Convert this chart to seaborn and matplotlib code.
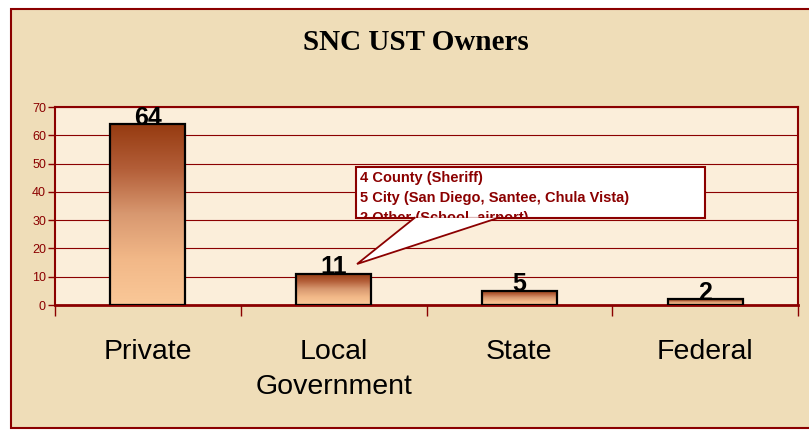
import numpy as np
import pandas as pd
import matplotlib.pyplot as plt
import seaborn as sns
from matplotlib.colors import LinearSegmentedColormap
from matplotlib.patches import Rectangle, Polygon
from matplotlib.transforms import Bbox, TransformedBbox

# chart data
categories = ['Private', 'Local\nGovernment', 'State', 'Federal']
owners = [64, 11, 5, 2]
y_ticks = [0, 10, 20, 30, 40, 50, 60, 70]
note_lines = ['4 County (Sheriff)',
              '5 City (San Diego, Santee, Chula Vista)',
              '2 Other (School, airport)']

df = pd.DataFrame({'owner': categories, 'count': owners})

DARK_RED = '#8B0000'
W, H = 809, 433

sns.set_style('white')
plt.rcParams['font.family'] = ['Liberation Sans', 'DejaVu Sans']
plt.rcParams['text.color'] = 'black'
plt.rcParams['xtick.color'] = 'black'

fig = plt.figure(figsize=(W / 100, H / 100), dpi=100, facecolor='white')

# parchment background with dark red frame
bg = Rectangle((11 / W, 5 / H), 1.0, 419 / H, transform=fig.transFigure,
               facecolor='#EFDDB8', edgecolor=DARK_RED, linewidth=1.5,
               zorder=-10)
fig.patches.append(bg)

fig.text(416 / W, 1 - 43 / H, 'SNC UST Owners', ha='center', va='center',
         fontsize=21, fontweight='bold', family='Liberation Serif',
         color='black')

ax = fig.add_axes([55 / W, (H - 305) / H, (798 - 55) / W, (305 - 107) / H])
ax.set_zorder(2)
ax.set_facecolor('#FBEEDA')

sns.barplot(data=df, x='owner', y='count', ax=ax, width=0.405,
            color='#C47A55', edgecolor='black', linewidth=1.6, zorder=3)

# vertical gradient fill on each bar
cmap = LinearSegmentedColormap.from_list(
    'brown', ['#953A10', '#B35E38', '#D89870', '#F2B888', '#FAC898'])
grad = np.linspace(0, 1, 256).reshape(-1, 1)
for p in ax.patches:
    x0, y0 = p.get_x(), p.get_y()
    w, h = p.get_width(), p.get_height()
    im = ax.imshow(grad, cmap=cmap, aspect='auto', origin='upper',
                   extent=(x0, x0 + w, y0, y0 + h), zorder=2.5)
    im.set_clip_path(p)
    p.set_facecolor('none')

ax.set_xlim(-0.5, len(categories) - 0.5)
ax.set_ylim(0, 70)
ax.set_yticks(y_ticks)
ax.set_yticklabels([str(t) for t in y_ticks], color=DARK_RED, fontsize=9)
ax.tick_params(axis='y', direction='out', length=5, width=1, color=DARK_RED,
               pad=1.5, left=True)
ax.set_xticks(range(len(categories)))
ax.set_xticklabels(categories, fontsize=20.5, linespacing=1.47,
                   color='black')
ax.tick_params(axis='x', which='major', length=0, pad=24.5)
ax.set_xticks(np.arange(-0.5, len(categories), 1.0), minor=True)
ax.tick_params(axis='x', which='minor', direction='out', length=8,
               width=1, color=DARK_RED, bottom=True)
ax.set_xlabel('')
ax.set_ylabel('')

ax.yaxis.grid(True, color=DARK_RED, linewidth=0.8, zorder=1)
ax.set_axisbelow(True)
for s in ax.spines.values():
    s.set_visible(True)
    s.set_color(DARK_RED)
    s.set_linewidth(1.5)
ax.spines['bottom'].set_linewidth(2)

# value labels
for i, v in enumerate(owners):
    ax.annotate(str(v), (i, v), xytext=(0, -4), textcoords='offset points',
                ha='center', va='bottom', fontsize=18, fontweight='bold',
                color='black', zorder=5)

# callout box
bx0, by0, bx1, by1 = 0.405, 0.439, 0.875, 0.697
box = Rectangle((bx0, by0), bx1 - bx0, by1 - by0, transform=ax.transAxes,
                facecolor='white', edgecolor=DARK_RED, linewidth=1.5,
                zorder=6, clip_on=False)
ax.add_patch(box)
wedge = Polygon([(0.485, by0 + 0.004), (0.4065, 0.207), (0.599, by0 + 0.004)],
                closed=False, transform=ax.transAxes, facecolor='white',
                edgecolor=DARK_RED, linewidth=1.3, zorder=6.5, clip_on=False)
ax.add_patch(wedge)
clip = TransformedBbox(Bbox([[bx0, by0], [bx1, by1]]), ax.transAxes)
for k, line in enumerate(note_lines):
    t = ax.text(bx0 + 0.006, 0.641 - k * 0.101, line,
                transform=ax.transAxes, ha='left', va='center',
                fontsize=10.5, fontweight='bold', color=DARK_RED, zorder=7)
    t.set_clip_box(clip)
    t.set_clip_on(True)

fig.savefig('out.png', dpi=100, facecolor=fig.get_facecolor())
